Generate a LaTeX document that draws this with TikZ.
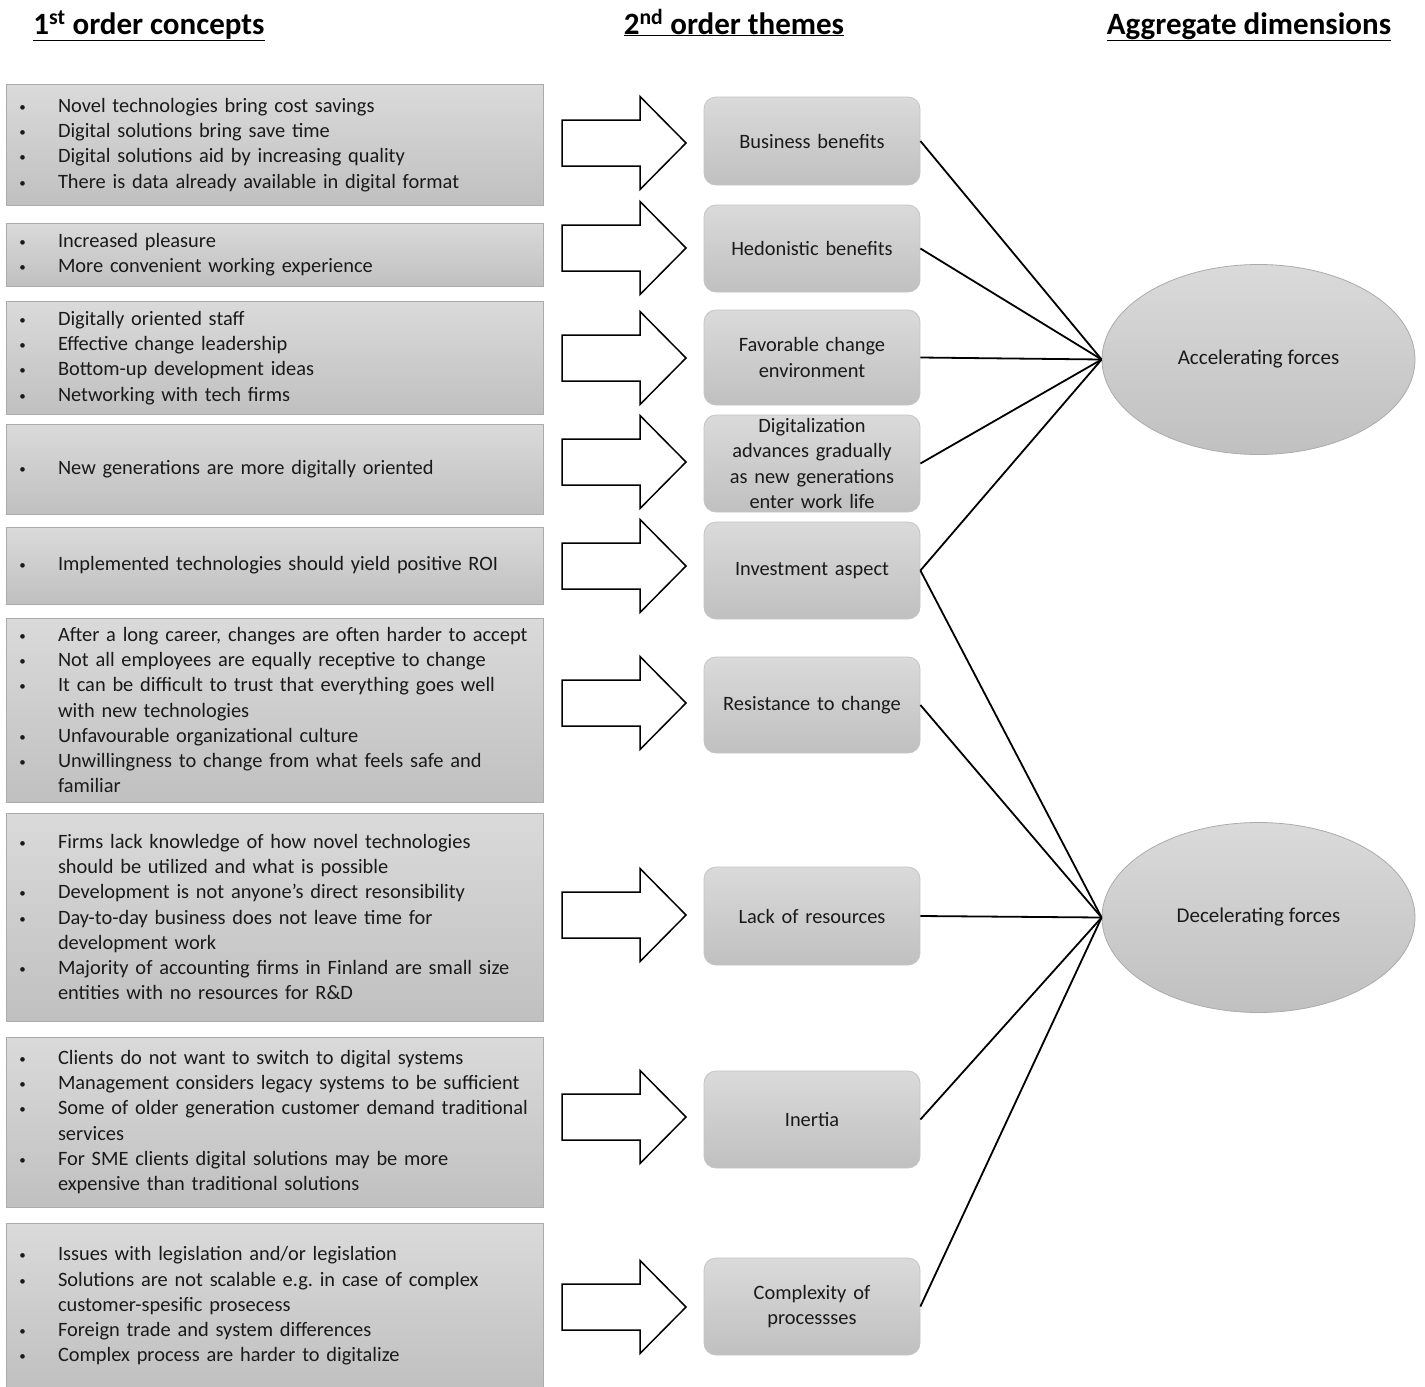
\documentclass[tikz,border=0pt]{standalone}
\usepackage{fontspec}
\setmainfont{Carlito}
\usetikzlibrary{shapes.geometric}
\definecolor{boxtop}{HTML}{DADADA}
\definecolor{boxbot}{HTML}{C0C0C0}
\definecolor{boxline}{HTML}{ABABAB}
\definecolor{txt}{HTML}{1A1A1A}
\newcommand\bul{\makebox[40pt][l]{\hspace{1.5pt}\raisebox{1pt}{\fontsize{13}{13}\selectfont\textbullet}}}
\newcommand\ind{\hspace*{40pt}}
\frenchspacing
\begin{document}
\begin{tikzpicture}[x=1pt,y=-1pt,
  every node/.style={text=txt, font=\fontsize{20.4}{25.3}\selectfont},
  lbox/.style={draw=boxline, line width=0.8pt, top color=boxtop, bottom color=boxbot,
    minimum width=537pt, text width=513pt, inner xsep=12pt, inner ysep=0pt, align=left},
  mbox/.style={draw=boxline!70, line width=0.8pt, top color=boxtop, bottom color=boxbot,
    rounded corners=12pt, minimum width=216pt, text width=205pt, inner sep=0pt, align=center,
    font=\fontsize{20.4}{25.5}\selectfont},
  ebox/.style={ellipse, draw=boxline, line width=0.8pt, top color=boxtop, bottom color=boxbot,
    minimum width=313pt, minimum height=190pt, inner sep=0pt, font=\fontsize{21}{25}\selectfont},
  head/.style={font=\fontsize{31}{34}\bfseries\selectfont, text=black, anchor=base, inner sep=0pt},
  barrow/.style={draw=black, line width=1.5pt, fill=white, line join=miter},
  link/.style={draw=black, line width=1.8pt}
]
\useasboundingbox (0,0) rectangle (1425,1387);

% headers
\node[head] (h1) at (149,34) {\underline{1\textsuperscript{st} order concepts}};
\node[head] (h2) at (734,34) {\underline{2\textsuperscript{nd} order themes}};
\node[head] (h3) at (1249,34) {\underline{Aggregate dimensions}};

% left boxes
\node[lbox, minimum height=121pt] (c1) at (274.5,145) {\bul Novel technologies bring cost savings\\
\bul Digital solutions bring save time\\
\bul Digital solutions aid by increasing quality\\
\bul There is data already available in digital format};
\node[lbox, minimum height=63pt] (c2) at (274.5,254.5) {\bul Increased pleasure\\
\bul More convenient working experience};
\node[lbox, minimum height=113pt] (c3) at (274.5,358) {\bul Digitally oriented staff\\
\bul Effective change leadership\\
\bul Bottom-up development ideas\\
\bul Networking with tech firms};
\node[lbox, minimum height=90pt] (c4) at (274.5,469) {\bul New generations are more digitally oriented};
\node[lbox, minimum height=77pt] (c5) at (274.5,565.5) {\bul Implemented technologies should yield positive ROI};
\node[lbox, minimum height=184pt] (c6) at (274.5,710) {\bul After a long career, changes are often harder to accept\\
\bul Not all employees are equally receptive to change\\
\bul It can be difficult to trust that everything goes well\\
\ind with new technologies\\
\bul Unfavourable organizational culture\\
\bul Unwillingness to change from what feels safe and\\
\ind familiar};
\node[lbox, minimum height=208pt] (c7) at (274.5,917) {\bul Firms lack knowledge of how novel technologies\\
\ind should be utilized and what is possible\\
\bul Development is not anyone’s direct resonsibility\\
\bul Day-to-day business does not leave time for\\
\ind development work\\
\bul Majority of accounting firms in Finland are small size\\
\ind entities with no resources for R\&D};
\node[lbox, minimum height=170pt] (c8) at (274.5,1122) {\bul Clients do not want to switch to digital systems\\
\bul Management considers legacy systems to be sufficient\\
\bul Some of older generation customer demand traditional\\
\ind services\\
\bul For SME clients digital solutions may be more\\
\ind expensive than traditional solutions};
\node[lbox, minimum height=165pt] (c9) at (274.5,1306) {\bul Issues with legislation and/or legislation\\
\bul Solutions are not scalable e.g. in case of complex\\
\ind customer-spesific prosecess\\
\bul Foreign trade and system differences\\
\bul Complex process are harder to digitalize};

% block arrows
\foreach \c in {143,248,358,462,566,703,915,1117,1307}{
  \draw[barrow] (562,{\c-23}) -- (640,{\c-23}) -- (640,{\c-46.5}) -- (686,\c)
    -- (640,{\c+46.5}) -- (640,{\c+23}) -- (562,{\c+23}) -- cycle;
}

% middle boxes
\node[mbox, minimum height=88pt] (m1) at (812,141) {Business benefits};
\node[mbox, minimum height=87pt] (m2) at (812,248.5) {Hedonistic benefits};
\node[mbox, minimum height=95pt] (m3) at (812,357.5) {Favorable change\\environment};
\node[mbox, minimum height=97pt] (m4) at (812,463.5) {Digitalization\\advances gradually\\as new generations\\enter work life};
\node[mbox, minimum height=97pt] (m5) at (812,570.5) {Investment aspect};
\node[mbox, minimum height=96pt] (m6) at (812,705) {Resistance to change};
\node[mbox, minimum height=98pt] (m7) at (812,916) {Lack of resources};
\node[mbox, minimum height=97pt] (m8) at (812,1119.5) {Inertia};
\node[mbox, minimum height=97pt] (m9) at (812,1306.5) {Complexity of\\processses};

% ellipses
\node[ebox] (acc) at (1258.5,359.5) {Accelerating forces};
\node[ebox] (dec) at (1258.5,917.5) {Decelerating forces};

% links
\foreach \m in {m1,m2,m3,m4,m5}{ \draw[link] (\m.east) -- (acc.west); }
\foreach \m in {m5,m6,m7,m8,m9}{ \draw[link] (\m.east) -- (dec.west); }
\end{tikzpicture}
\end{document}
